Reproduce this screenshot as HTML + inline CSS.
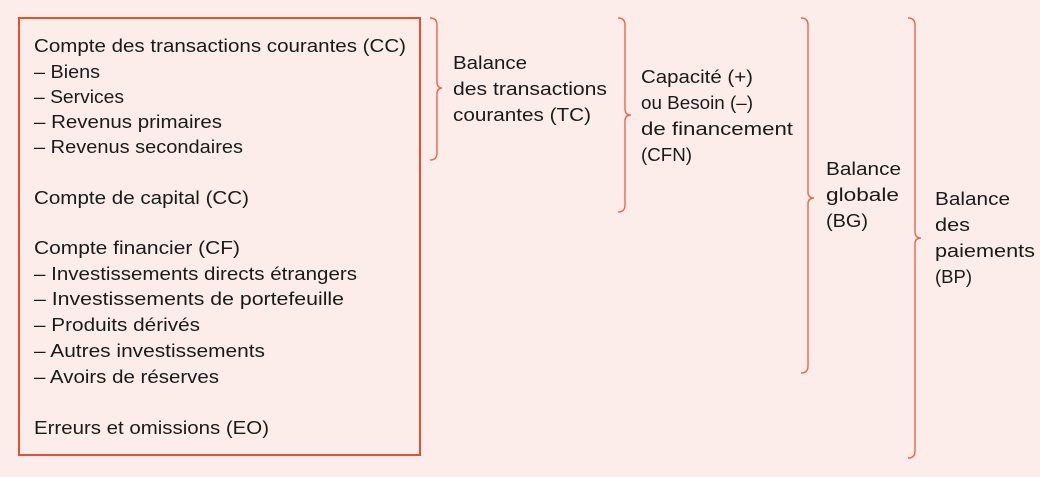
<!DOCTYPE html>
<html><head><meta charset="utf-8"><style>
html,body{margin:0;padding:0;background:#fdedea;}
svg{display:block}
text{font-family:"Liberation Sans",sans-serif;font-size:18px;fill:#1a1a1a;}
</style></head><body>
<svg width="1040" height="477" viewBox="0 0 1040 477">
<rect width="1040" height="477" fill="#fdedea"/>
<rect x="19" y="18" width="401" height="437" fill="none" stroke="#e5512f" stroke-width="2"/>
<g fill="none" stroke="#e8674a" stroke-width="1.4">
<path d="M430,18 Q437,18 437,25 L437,82 Q437,88 442,88 Q437,88 437,94 L437,153 Q437,160 430,160"/>
<path d="M618,18 Q625,18 625,25 L625,109 Q625,115 631,115 Q625,115 625,121 L625,205 Q625,212 618,212"/>
<path d="M801,18 Q808,18 808,25 L808,192 Q808,198 814,198 Q808,198 808,204 L808,366 Q808,373 801,373"/>
<path d="M908,18 Q915,18 915,25 L915,232 Q915,238 921,238 Q915,238 915,244 L915,451 Q915,458 908,458"/>
</g>
<g>
<text x="34" y="52" textLength="372" lengthAdjust="spacingAndGlyphs">Compte des transactions courantes (CC)</text>
<text x="34" y="78" textLength="66" lengthAdjust="spacingAndGlyphs">– Biens</text>
<text x="34" y="103" textLength="90" lengthAdjust="spacingAndGlyphs">– Services</text>
<text x="34" y="128" textLength="188" lengthAdjust="spacingAndGlyphs">– Revenus primaires</text>
<text x="34" y="153" textLength="209" lengthAdjust="spacingAndGlyphs">– Revenus secondaires</text>
<text x="34" y="204" textLength="215" lengthAdjust="spacingAndGlyphs">Compte de capital (CC)</text>
<text x="34" y="254" textLength="206" lengthAdjust="spacingAndGlyphs">Compte financier (CF)</text>
<text x="34" y="280" textLength="323" lengthAdjust="spacingAndGlyphs">– Investissements directs étrangers</text>
<text x="34" y="305" textLength="310" lengthAdjust="spacingAndGlyphs">– Investissements de portefeuille</text>
<text x="34" y="331" textLength="166" lengthAdjust="spacingAndGlyphs">– Produits dérivés</text>
<text x="34" y="357" textLength="231" lengthAdjust="spacingAndGlyphs">– Autres investissements</text>
<text x="34" y="383" textLength="185" lengthAdjust="spacingAndGlyphs">– Avoirs de réserves</text>
<text x="34" y="434" textLength="235" lengthAdjust="spacingAndGlyphs">Erreurs et omissions (EO)</text>

<text x="453" y="69" textLength="74" lengthAdjust="spacingAndGlyphs">Balance</text>
<text x="453" y="95" textLength="154" lengthAdjust="spacingAndGlyphs">des transactions</text>
<text x="453" y="121" textLength="138" lengthAdjust="spacingAndGlyphs">courantes (TC)</text>

<text x="641" y="83" textLength="112" lengthAdjust="spacingAndGlyphs">Capacité (+)</text>
<text x="641" y="109" textLength="112" lengthAdjust="spacingAndGlyphs">ou Besoin (–)</text>
<text x="641" y="135" textLength="152" lengthAdjust="spacingAndGlyphs">de financement</text>
<text x="641" y="161" textLength="51" lengthAdjust="spacingAndGlyphs">(CFN)</text>

<text x="826" y="175" textLength="75" lengthAdjust="spacingAndGlyphs">Balance</text>
<text x="826" y="201" textLength="73" lengthAdjust="spacingAndGlyphs">globale</text>
<text x="826" y="227" textLength="42" lengthAdjust="spacingAndGlyphs">(BG)</text>

<text x="935" y="205" textLength="75" lengthAdjust="spacingAndGlyphs">Balance</text>
<text x="935" y="231" textLength="35" lengthAdjust="spacingAndGlyphs">des</text>
<text x="935" y="257" textLength="100" lengthAdjust="spacingAndGlyphs">paiements</text>
<text x="935" y="283" textLength="37" lengthAdjust="spacingAndGlyphs">(BP)</text>
</g>
</svg>
</body></html>
